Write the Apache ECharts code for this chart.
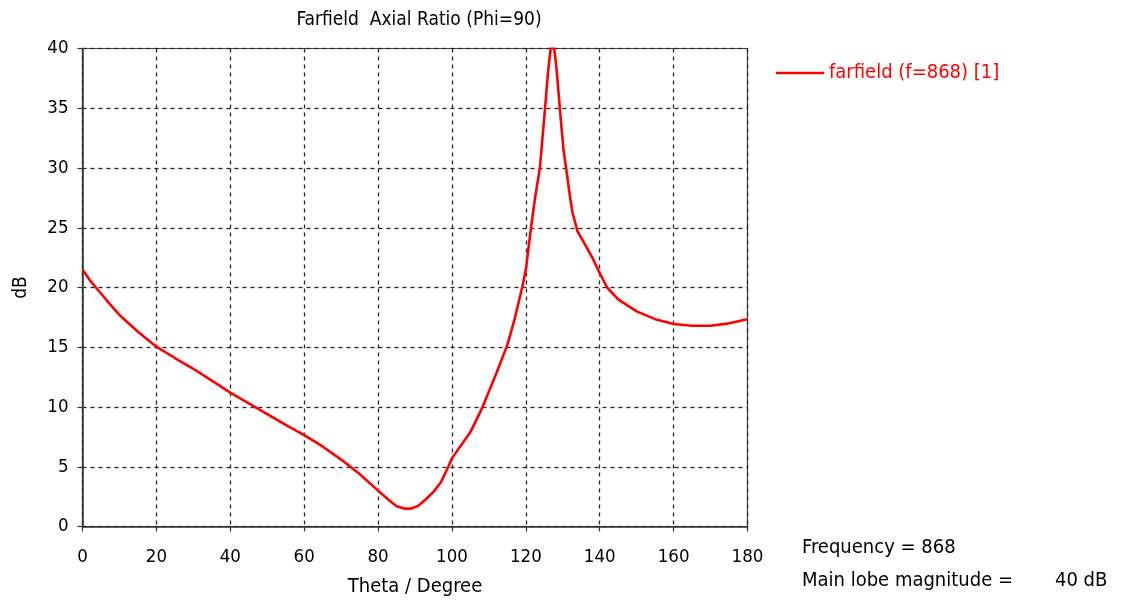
<!DOCTYPE html>
<html>
<head>
<meta charset="utf-8">
<script src="https://cdn.jsdelivr.net/npm/echarts@6/dist/echarts.min.js"></script>
<style>
  html, body { margin: 0; padding: 0; background: #ffffff; }
  #chart { width: 1121px; height: 605px; }
</style>
</head>
<body>
<div id="chart"></div>
<script>
// Axial ratio (dB) versus theta (degrees), phi = 90, f = 868
const theta = [0, 2, 5, 8, 10, 15, 20, 25, 30, 35, 40, 45, 50, 55, 60, 65, 70, 75, 80, 83, 85, 87, 89, 91, 93, 95, 97, 99, 100, 102, 105, 108, 110, 112, 115, 117, 119, 120, 121.4, 122.5, 123.8, 125.2, 126, 126.7, 127.7, 128.4, 129.2, 130.2, 130.9, 132, 132.6, 134, 136, 138, 140, 142, 145, 148, 150, 155, 160, 165, 170, 175, 180];
const axialRatio = [21.5, 20.6, 19.5, 18.4, 17.7, 16.3, 15.05, 14.1, 13.2, 12.2, 11.2, 10.3, 9.4, 8.5, 7.65, 6.7, 5.6, 4.4, 3.0, 2.2, 1.7, 1.5, 1.5, 1.75, 2.3, 2.9, 3.7, 5.0, 5.7, 6.6, 7.9, 9.8, 11.3, 12.8, 15.2, 17.4, 20.0, 21.5, 25, 27.5, 30, 35, 38, 40, 40, 38, 35, 31.5, 30, 27.5, 26.3, 24.7, 23.6, 22.5, 21.2, 20.0, 19.0, 18.4, 18.0, 17.35, 16.95, 16.8, 16.8, 17.0, 17.35];

const xTicks = [0, 20, 40, 60, 80, 100, 120, 140, 160, 180];
const yTicks = [0, 5, 10, 15, 20, 25, 30, 35, 40];

const seriesName = 'farfield (f=868) [1]';
const chartTitle = 'Farfield  Axial Ratio (Phi=90)';
const xName = 'Theta / Degree';
const yName = 'dB';
const infoLines = ['Frequency = 868', 'Main lobe magnitude ='];
const mainLobe = '40 dB';

const FONT = '"DejaVu Sans Condensed", "DejaVu Sans", sans-serif';
const points = theta.map((t, i) => [t, axialRatio[i]]);

const chart = echarts.init(document.getElementById('chart'), null, { renderer: 'canvas' });
chart.setOption({
  backgroundColor: '#ffffff',
  animation: false,
  title: {
    text: chartTitle,
    left: 414, top: 6, textAlign: 'center',
    textStyle: { fontFamily: FONT, fontSize: 19, fontWeight: 'normal', color: '#000' }
  },
  legend: {
    data: [seriesName],
    left: 771, top: 58,
    itemWidth: 48, itemHeight: 22, itemGap: 9,
    icon: 'path://M0,10 L48,10 L48,12.5 L0,12.5 Z',
    textStyle: { fontFamily: FONT, fontSize: 20, color: '#ff0000' }
  },
  grid: {
    left: 82.5, right: 373.5, top: 48.5, bottom: 78.5,
    show: true, borderColor: '#444', borderWidth: 1.2
  },
  xAxis: {
    type: 'value', min: xTicks[0], max: xTicks[xTicks.length - 1], interval: 20,
    name: xName, nameLocation: 'middle', nameGap: 50,
    nameTextStyle: { fontFamily: FONT, fontSize: 20, color: '#000' },
    axisLine: { show: true, lineStyle: { color: '#333', width: 1.5 } },
    axisTick: { show: true, length: 5, lineStyle: { color: '#333', width: 1.2 } },
    axisLabel: { fontFamily: FONT, fontSize: 18.5, color: '#000', margin: 21 },
    splitLine: { show: true, lineStyle: { color: '#262626', type: [4, 4], width: 1.3 } }
  },
  yAxis: {
    type: 'value', min: yTicks[0], max: yTicks[yTicks.length - 1], interval: 5,
    name: yName, nameLocation: 'middle', nameGap: 52, nameRotate: 90,
    nameTextStyle: { fontFamily: FONT, fontSize: 19, color: '#000' },
    axisLine: { show: true, lineStyle: { color: '#333', width: 1.5 } },
    axisTick: { show: true, length: 5, lineStyle: { color: '#333', width: 1.2 } },
    axisLabel: { fontFamily: FONT, fontSize: 18.5, color: '#000', margin: 14 },
    splitLine: { show: true, lineStyle: { color: '#262626', type: [4, 4], width: 1.3 } }
  },
  series: [{
    name: seriesName,
    type: 'line',
    data: points,
    showSymbol: false,
    smooth: false,
    clip: true,
    lineStyle: { color: '#ff0000', width: 2.6 },
    itemStyle: { color: '#ff0000' }
  }],
  graphic: [
    { type: 'text', left: 802, top: 538, style: { text: infoLines[0], font: '20px ' + FONT, fill: '#000' } },
    { type: 'text', left: 802, top: 571, style: { text: infoLines[1], font: '20px ' + FONT, fill: '#000' } },
    { type: 'text', left: 1055, top: 571, style: { text: mainLobe, font: '20px ' + FONT, fill: '#000' } }
  ]
});
</script>
</body>
</html>
